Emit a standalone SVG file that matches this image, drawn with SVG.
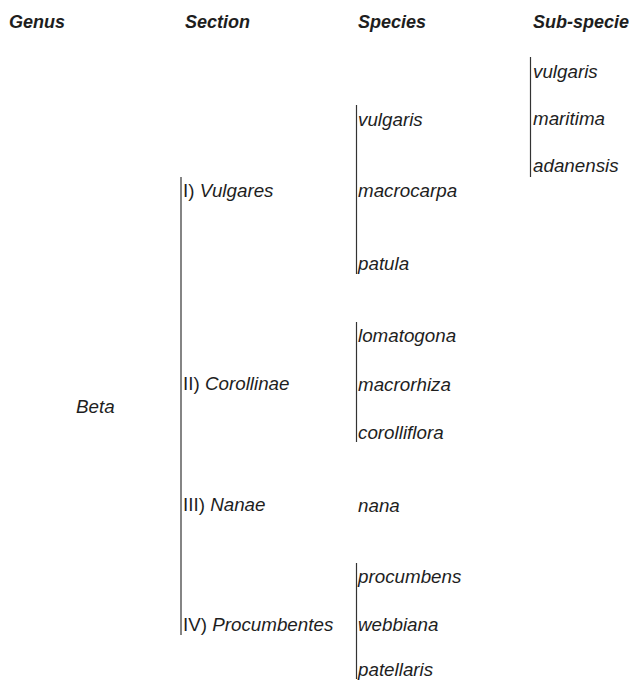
<svg xmlns="http://www.w3.org/2000/svg" width="633" height="682" viewBox="0 0 633 682">
<style>
text{font-family:"Liberation Sans",Arial,sans-serif;font-size:18.8px;fill:#1e1e1e}
.h{font-weight:bold;font-style:italic;font-size:18px}
.i{font-style:italic}
.n{font-style:normal}
.ln{stroke:#333;stroke-width:1.2;fill:none}
</style>
<rect width="633" height="682" fill="#fff"/>
<g id="headers">
<text class="h" x="9" y="28">Genus</text>
<text class="h" x="185" y="28">Section</text>
<text class="h" x="358" y="28">Species</text>
<text class="h" x="533" y="28">Sub-specie</text>
</g>
<g id="connectors">
<line class="ln" x1="181" y1="177" x2="181" y2="635"/>
<line class="ln" x1="356.5" y1="105" x2="356.5" y2="274"/>
<line class="ln" x1="356.5" y1="322" x2="356.5" y2="442"/>
<line class="ln" x1="356.5" y1="563" x2="356.5" y2="679"/>
<line class="ln" x1="530.5" y1="57" x2="530.5" y2="177"/>
</g>
<g id="genus-beta"><text class="i" x="76" y="413">Beta</text></g>
<g id="section-vulgares"><text x="183" y="197"><tspan class="n">I) </tspan><tspan class="i">Vulgares</tspan></text></g>
<g id="section-corollinae"><text x="183" y="390"><tspan class="n">II) </tspan><tspan class="i">Corollinae</tspan></text></g>
<g id="section-nanae"><text x="183" y="511"><tspan class="n">III) </tspan><tspan class="i">Nanae</tspan></text></g>
<g id="section-procumbentes"><text x="183" y="631"><tspan class="n">IV) </tspan><tspan class="i">Procumbentes</tspan></text></g>
<g id="sp-vulgaris"><text class="i" x="358" y="126">vulgaris</text></g>
<g id="sp-macrocarpa"><text class="i" x="358" y="197">macrocarpa</text></g>
<g id="sp-patula"><text class="i" x="358" y="270">patula</text></g>
<g id="sp-lomatogona"><text class="i" x="358" y="342">lomatogona</text></g>
<g id="sp-macrorhiza"><text class="i" x="358" y="391">macrorhiza</text></g>
<g id="sp-corolliflora"><text class="i" x="358" y="439">corolliflora</text></g>
<g id="sp-nana"><text class="i" x="358" y="512">nana</text></g>
<g id="sp-procumbens"><text class="i" x="358" y="583">procumbens</text></g>
<g id="sp-webbiana"><text class="i" x="358" y="631">webbiana</text></g>
<g id="sp-patellaris"><text class="i" x="358" y="676">patellaris</text></g>
<g id="ssp-vulgaris"><text class="i" x="533" y="78">vulgaris</text></g>
<g id="ssp-maritima"><text class="i" x="533" y="125">maritima</text></g>
<g id="ssp-adanensis"><text class="i" x="533" y="172">adanensis</text></g>
</svg>
